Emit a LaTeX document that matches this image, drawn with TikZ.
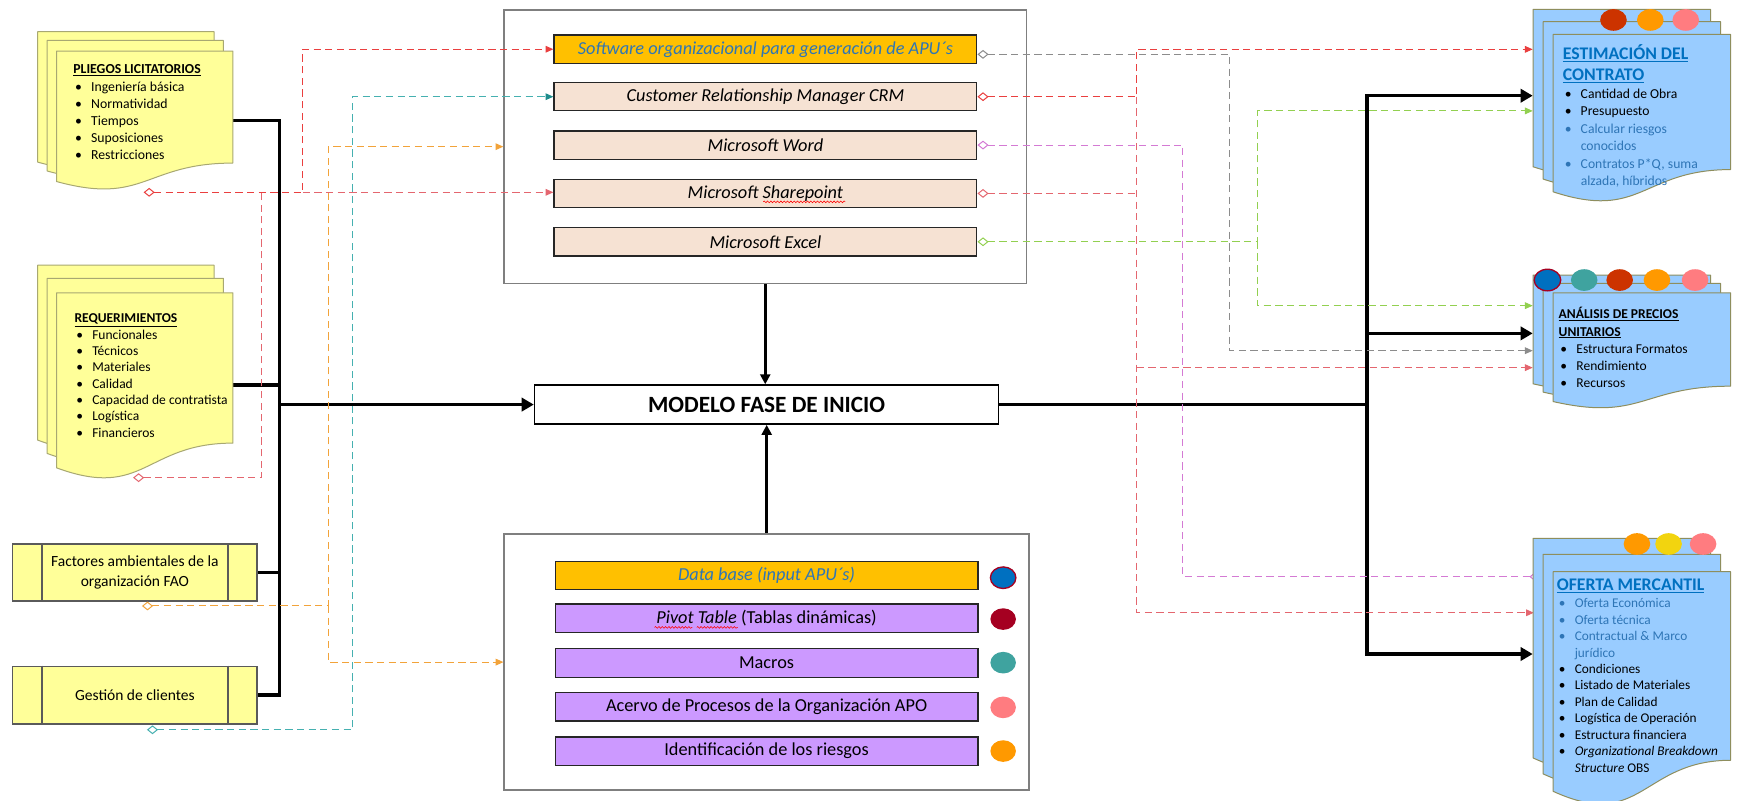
\documentclass[tikz,border=0pt]{standalone}
\usepackage{fontspec}
\setmainfont{Carlito}
\usetikzlibrary{arrows.meta,calc,shapes.geometric,decorations.pathmorphing}

% palette
\definecolor{noteyellow}{HTML}{FFFF99}
\definecolor{noteedge}{HTML}{A8A872}
\definecolor{docblue}{HTML}{99CCFF}
\definecolor{docedge}{HTML}{8E8E5E}
\definecolor{apuorange}{HTML}{FFC000}
\definecolor{peach}{HTML}{F6E2D3}
\definecolor{lilac}{HTML}{CC99FF}
\definecolor{textblue}{HTML}{2E75B6}
\definecolor{titleblue}{HTML}{0070C0}
\definecolor{framegray}{HTML}{7F7F7F}
\definecolor{procedge}{HTML}{5A5A5A}
\definecolor{lnred}{HTML}{EA3F3F}
\definecolor{lnpink}{HTML}{E4666F}
\definecolor{lnteal}{HTML}{45B0B0}
\definecolor{lntealdark}{HTML}{1E8C8C}
\definecolor{lnorange}{HTML}{F2A33A}
\definecolor{lngray}{HTML}{8C8C8C}
\definecolor{lnmagenta}{HTML}{D47AD4}
\definecolor{lngreen}{HTML}{92D050}
\definecolor{dotblue}{HTML}{0070C0}
\definecolor{dotwine}{HTML}{A50021}
\definecolor{dotteal}{HTML}{3FA39F}
\definecolor{dotpink}{HTML}{FF7C80}
\definecolor{dotorange}{HTML}{FF9900}
\definecolor{dotrust}{HTML}{CC3300}
\definecolor{dotyellow}{HTML}{F2D40F}

% one sheet of a multi-document shape (x, y, width, height, fill, edge)
\newcommand{\docsheet}[6]{%
  \filldraw[fill=#5, draw=#6, line width=0.9pt, line join=round]
    (#1,#2) -- ({#1+#3},#2) -- ({#1+#3},{#2+0.802*#4})
    .. controls ({#1+0.5*#3},{#2+0.802*#4}) and ({#1+0.5*#3},{#2+1.107*#4})
    .. (#1,{#2+0.934*#4}) -- cycle;}
\newcommand{\topstrut}{\rule{0pt}{12pt}}
\newcommand{\bitem}[1]{\hspace*{1.6pt}\makebox[14.4pt][l]{\textbullet}#1}
\newcommand{\bcont}[1]{\hspace*{16pt}#1}

\begin{document}
\begin{tikzpicture}[x=1pt,y=-1pt,
  txt/.style={anchor=north west, inner sep=0pt, align=left},
  bigframe/.style={draw=framegray, fill=white, line width=1.4pt, inner sep=0pt},
  swbox/.style={draw=black!85, line width=1.1pt, minimum width=381.3pt,
    minimum height=25.5pt, inner sep=0pt, font=\fontsize{16.5}{19}\selectfont},
  procbox/.style={draw=procedge, fill=noteyellow, line width=1.5pt,
    minimum width=220.7pt, inner sep=0pt, align=center,
    font=\fontsize{14}{17.4}\selectfont},
  dot/.style={ellipse, minimum width=23pt, minimum height=19.5pt, inner sep=0pt},
  sdot/.style={ellipse, minimum width=24pt, minimum height=19.5pt, inner sep=0pt},
  bus/.style={line width=3.2pt},
  busarrow/.style={line width=3.2pt, -{Triangle[length=11pt,width=12pt]}},
  vbus/.style={line width=2.6pt, -{Triangle[length=9pt,width=9pt]}},
  dl/.style={line width=0.9pt, dash pattern=on 6.5pt off 4pt},
  fromdia/.style={{Diamond[open,length=10pt,width=8pt]}-{Triangle[length=7pt,width=6pt]}},
  diaonly/.style={{Diamond[open,length=10pt,width=8pt]}-},
  diaboth/.style={{Diamond[open,length=10pt,width=8pt]}-{Diamond[open,length=10pt,width=8pt]}},
  triend/.style={-{Triangle[length=7pt,width=6pt]}},
  squiggle/.style={draw=red, line width=0.5pt,
    decorate, decoration={snake, amplitude=0.8pt, segment length=3pt}}
]
\useasboundingbox (0,0) rectangle (1568,722);
\fill[white] (0,0) rectangle (1568,722);
\clip (0,0) rectangle (1568,722);

% ---------- frames of the two tool groups ----------
\node[bigframe, minimum width=471pt, minimum height=246.5pt] (topbox) at (690,132.25) {};
\node[bigframe, minimum width=473.3pt, minimum height=231pt] (lowbox) at (691.3,597) {};

% ---------- ports and lanes ----------
\coordinate (pl-out) at (210,108.8);
\coordinate (req-out) at (210,347);
\coordinate (lbus) at (252,364.8);
\coordinate (rbus) at (1232.5,364.8);
\coordinate (est-blk) at (1382,86.3);
\coordinate (an-blk) at (1382,300.6);
\coordinate (of-blk) at (1382,589.7);
\coordinate (est-red) at (1382,44.5);
\coordinate (est-grn) at (1382,100);
\coordinate (an-grn) at (1382,275.6);
\coordinate (an-gry) at (1382,316.2);
\coordinate (an-red) at (1382,331.5);
\coordinate (of-mag) at (1389,520);
\coordinate (of-red) at (1383,552.5);
\coordinate (pl-src) at (129.5,173.4);
\coordinate (req-src) at (120,430.7);
\coordinate (fao-src) at (128,546.4);
\coordinate (ges-src) at (132.5,658);
\coordinate (laneA) at (273,0);
\coordinate (laneB) at (236,0);
\coordinate (laneO) at (296,0);
\coordinate (laneT) at (318,0);
\coordinate (laneR) at (1025,0);
\coordinate (laneM) at (1066.5,0);
\coordinate (laneG) at (1108.7,0);
\coordinate (laneE) at (1134,0);

% ---------- central node ----------
\node[draw, fill=white, line width=1.5pt, minimum width=418.3pt, minimum height=35.1pt,
  inner sep=0pt, font=\bfseries\fontsize{21}{24}\selectfont] (modelo) at (691.2,364.8)
  {MODELO FASE DE INICIO};

% ---------- inner boxes: software tools ----------
\node[swbox, fill=apuorange, text=textblue, font=\fontsize{16.5}{19}\selectfont\itshape]
  (software) at (690.15,44.4) {Software organizacional para generación de APU´s};
\node[swbox, fill=peach, font=\fontsize{16.5}{19}\selectfont\itshape] (crm) at (690.15,87.2)
  {Customer Relationship Manager CRM};
\node[swbox, fill=peach, font=\fontsize{16.5}{19}\selectfont\itshape] (word) at (690.15,130.8)
  {Microsoft Word};
\node[swbox, fill=peach, font=\fontsize{16.5}{19}\selectfont\itshape] (sharepoint) at (690.15,174.4)
  {Microsoft Sharepoint};
\node[swbox, fill=peach, font=\fontsize{16.5}{19}\selectfont\itshape] (excel) at (690.15,218)
  {Microsoft Excel};

% ---------- inner boxes: data resources ----------
\node[swbox, fill=apuorange, text=textblue, font=\fontsize{16.5}{19}\selectfont\itshape]
  (database) at (691.2,519) {Data base (input APU´s)};
\node[swbox, fill=lilac] (pivot) at (691.2,557.3) {\textit{Pivot Table} (Tablas dinámicas)};
\node[swbox, fill=lilac] (macros) at (691.2,597.8) {Macros};
\node[swbox, fill=lilac] (acervo) at (691.2,637.4) {Acervo de Procesos de la Organización APO};
\node[swbox, fill=lilac] (riesgos) at (691.2,677.3) {Identificación de los riesgos};

\node[dot, fill=dotblue, draw=dotwine, line width=1.2pt] (db-dot) at (904.5,520.9) {};
\node[dot, fill=dotwine] (pv-dot) at (904.5,558.2) {};
\node[dot, fill=dotteal] (mc-dot) at (904.5,597.5) {};
\node[dot, fill=dotpink] (ac-dot) at (904.5,637.8) {};
\node[dot, fill=dotorange] (ri-dot) at (904.5,677.2) {};

% spelling marks under the product names
\draw[squiggle] ($(sharepoint.center)+(-2,7.6)$) -- ($(sharepoint.center)+(72,7.6)$);
\draw[squiggle] ($(pivot.center)+(-101,8.4)$) -- ($(pivot.center)+(-67,8.4)$);
\draw[squiggle] ($(pivot.center)+(-63,8.4)$) -- ($(pivot.center)+(-26,8.4)$);

% ---------- thick flow ----------
\draw[bus] (pl-out) -| (lbus);
\draw[bus] (req-out) -| (lbus);
\draw[busarrow] (lbus) -- (modelo.west);
\draw[vbus] (topbox.south) -- (topbox.south |- modelo.north);
\draw[vbus] (lowbox.north) -- (lowbox.north |- modelo.south);
\draw[bus] (modelo.east) -- (rbus);
\draw[busarrow] (rbus) |- (est-blk);
\draw[busarrow] (rbus) |- (an-blk);
\draw[busarrow] (rbus) |- (of-blk);

% ---------- left-side yellow stacks ----------
\docsheet{34}{28.5}{159}{126}{noteyellow}{noteedge}
\docsheet{42.5}{36.5}{159}{126}{noteyellow}{noteedge}
\docsheet{51}{46}{159}{126}{noteyellow}{noteedge}
\node[txt, font=\fontsize{12.4}{15.5}\selectfont] (pl-text) at (66,54.5)
  {\topstrut\underline{\textbf{PLIEGOS LICITATORIOS}}\\
   \bitem{Ingeniería básica}\\ \bitem{Normatividad}\\ \bitem{Tiempos}\\
   \bitem{Suposiciones}\\ \bitem{Restricciones}};

\docsheet{34}{239}{159}{169}{noteyellow}{noteedge}
\docsheet{42.5}{251}{159}{169}{noteyellow}{noteedge}
\docsheet{51}{264}{159}{169}{noteyellow}{noteedge}
\node[txt, font=\fontsize{12.2}{14.7}\selectfont] (req-text) at (67,279)
  {\topstrut\underline{\textbf{REQUERIMIENTOS}}\\
   \bitem{Funcionales}\\ \bitem{Técnicos}\\ \bitem{Materiales}\\ \bitem{Calidad}\\
   \bitem{Capacidad de contratista}\\ \bitem{Logística}\\ \bitem{Financieros}};

\node[procbox, minimum height=51pt] (fao) at (121.6,516.1)
  {Factores ambientales de la\\organización FAO};
\node[procbox, minimum height=51.8pt] (ges) at (121.6,626.9) {Gestión de clientes};
\foreach \b in {fao,ges}{
  \draw[draw=procedge, line width=1.5pt] ([xshift=27.4pt]\b.north west) -- ([xshift=27.4pt]\b.south west);
  \draw[draw=procedge, line width=1.5pt] ([xshift=-27.4pt]\b.north east) -- ([xshift=-27.4pt]\b.south east);
}
\draw[bus] (fao.east) -| (lbus);
\draw[bus] (ges.east) -| (lbus);

% ---------- dashed links, left side ----------
\draw[dl, draw=lnred, fromdia] (pl-src) -| (laneA |- software.west) -- (software.west);
\draw[dl, draw=lnpink, triend] (laneA |- pl-src) -- (pl-src -| sharepoint.west);
\draw[dl, draw=lnpink, diaonly] (req-src) -| (laneB |- pl-src);
\draw[dl, draw=lnorange, fromdia] (fao-src) -| (laneO |- topbox.west) -- (topbox.west);
\draw[dl, draw=lnorange, triend] (laneO |- fao-src) |- (lowbox.west);
\draw[dl, draw=lnteal,
  {Diamond[open,length=10pt,width=8pt]}-{Triangle[length=7pt,width=6pt,color=lntealdark]}]
  (ges-src) -| (laneT |- crm.west) -- (crm.west);

% ---------- dashed links, right side ----------
\draw[dl, draw=lngray, fromdia] ([yshift=-4.6pt]software.east) -| (laneG |- an-gry) -- (an-gry);
\draw[dl, draw=lnred, fromdia] (crm.east) -| (laneR |- est-red) -- (est-red);
\draw[dl, draw=lnpink, triend] (laneR |- crm.east) |- (of-red);
\draw[dl, draw=lnpink, diaonly] (sharepoint.east) -- (laneR |- sharepoint.east);
\draw[dl, draw=lnpink, triend] (laneR |- an-red) -- (an-red);
\draw[dl, draw=lnmagenta, diaboth] (word.east) -| (laneM |- of-mag) -- (of-mag);
\draw[dl, draw=lngreen, fromdia] (excel.east) -| (laneE |- est-grn) -- (est-grn);
\draw[dl, draw=lngreen, triend] (laneE |- excel.east) |- (an-grn);

% ---------- right-side blue stacks ----------
\docsheet{1382.3}{8.4}{160}{152}{docblue}{docedge}
\docsheet{1391.4}{19.5}{160}{152}{docblue}{docedge}
\docsheet{1400.4}{31}{160}{152}{docblue}{docedge}
\node[sdot, fill=dotrust] (e1) at (1454.8,18) {};
\node[sdot, fill=dotorange] (e2) at (1488,18) {};
\node[sdot, fill=dotpink] (e3) at (1520,18) {};
\node[txt, text=titleblue, font=\bfseries\fontsize{16}{19.6}\selectfont] (est-title) at (1409,38.2)
  {\rule{0pt}{15pt}\underline{ESTIMACIÓN DEL}\\ \underline{CONTRATO}};
\node[txt, font=\fontsize{12.3}{15.7}\selectfont] (est-items) at (1409.1,76.5)
  {\topstrut\bitem{Cantidad de Obra}\\ \bitem{Presupuesto}\\
   {\color{textblue}\bitem{Calcular riesgos}}\\ {\color{textblue}\bcont{conocidos}}\\
   {\color{textblue}\bitem{Contratos P*Q, suma}}\\ {\color{textblue}\bcont{alzada, híbridos}}};

\docsheet{1382.3}{248}{160}{105}{docblue}{docedge}
\docsheet{1391.4}{255.5}{160}{105}{docblue}{docedge}
\docsheet{1400.4}{264}{160}{105}{docblue}{docedge}
\node[sdot, fill=dotblue, draw=dotwine, line width=1.2pt] (a1) at (1395.3,252.5) {};
\node[sdot, fill=dotteal] (a2) at (1428.4,252.5) {};
\node[sdot, fill=dotrust] (a3) at (1460.4,252.5) {};
\node[sdot, fill=dotorange] (a4) at (1494,252.5) {};
\node[sdot, fill=dotpink] (a5) at (1528.4,252.5) {};
\node[txt, font=\fontsize{12.2}{15.4}\selectfont] (an-text) at (1405.2,275.4)
  {\topstrut\underline{\textbf{ANÁLISIS DE PRECIOS}}\\ \underline{\textbf{UNITARIOS}}\\
   \bitem{Estructura Formatos}\\ \bitem{Rendimiento}\\ \bitem{Recursos}};

\docsheet{1382.3}{485.4}{160}{212}{docblue}{docedge}
\docsheet{1391.4}{499.8}{160}{212}{docblue}{docedge}
\docsheet{1400.4}{515.5}{160}{212}{docblue}{docedge}
\node[sdot, fill=dotorange] (o1) at (1476,490.5) {};
\node[sdot, fill=dotyellow] (o2) at (1504.5,490.5) {};
\node[sdot, fill=dotpink] (o3) at (1535.6,490.5) {};
\node[txt, text=titleblue, font=\bfseries\fontsize{16}{19.6}\selectfont] (of-title) at (1403.5,517.6)
  {\rule{0pt}{15pt}\underline{OFERTA MERCANTIL}};
\node[txt, font=\fontsize{12}{14.82}\selectfont] (of-items) at (1403.7,535.8)
  {\topstrut{\color{textblue}\bitem{Oferta Económica}}\\
   {\color{textblue}\bitem{Oferta técnica}}\\
   {\color{textblue}\bitem{Contractual \& Marco}}\\
   {\color{textblue}\bcont{jurídico}}\\
   \bitem{Condiciones}\\ \bitem{Listado de Materiales}\\ \bitem{Plan de Calidad}\\
   \bitem{Logística de Operación}\\ \bitem{Estructura financiera}\\
   \bitem{\textit{Organizational Breakdown}}\\ \bcont{\textit{Structure} OBS}};
\end{tikzpicture}
\end{document}
